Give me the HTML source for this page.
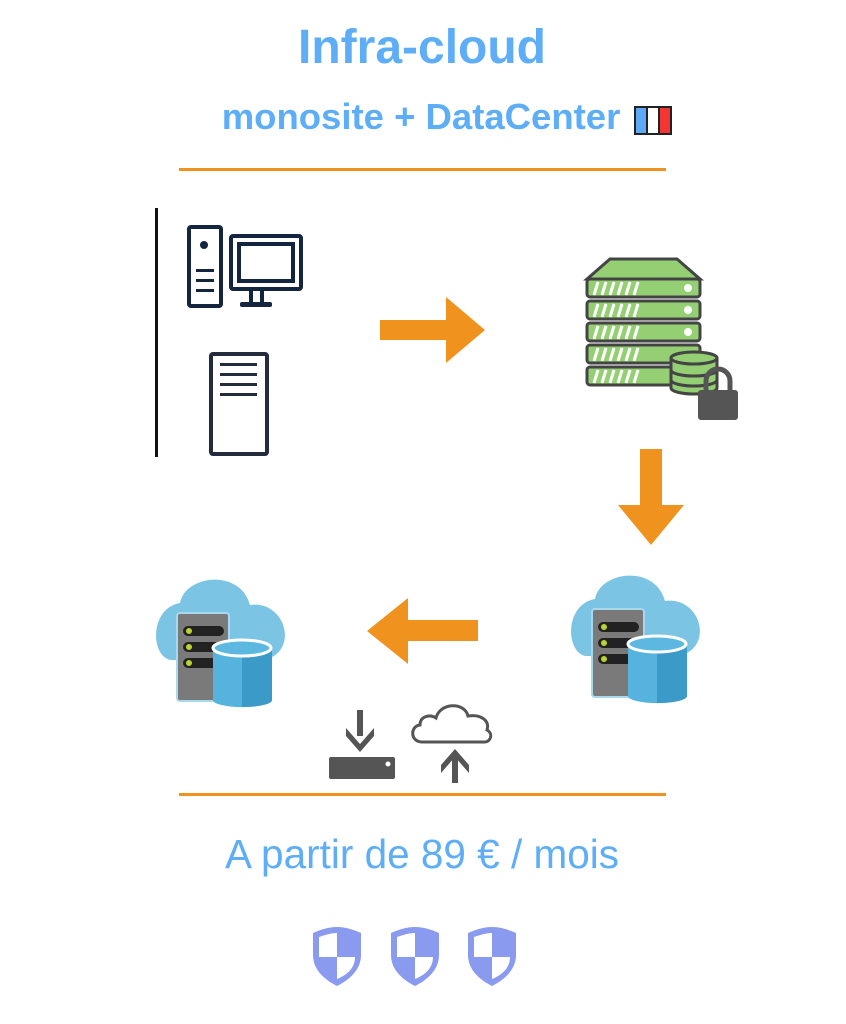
<!DOCTYPE html>
<html><head><meta charset="utf-8"><style>
html,body{margin:0;padding:0;background:#fff;}
svg{display:block;font-family:"Liberation Sans",Arial,sans-serif;}
</style></head><body>
<svg width="846" height="1024" viewBox="0 0 846 1024" xmlns="http://www.w3.org/2000/svg">
<text x="422" y="63" text-anchor="middle" font-size="48" font-weight="bold" fill="#5dadf7">Infra-cloud</text>
<text x="421" y="129" text-anchor="middle" font-size="36.5" font-weight="bold" fill="#5dadf7">monosite + DataCenter</text>
<g stroke="#222" stroke-width="2">
<rect x="635" y="107" width="12" height="27" fill="#5da9f7"/>
<rect x="647" y="107" width="12" height="27" fill="#fff"/>
<rect x="659" y="107" width="12" height="27" fill="#f53434"/>
</g>
<rect x="179" y="168" width="487" height="3" fill="#f0931e"/>
<rect x="179" y="793" width="487" height="3" fill="#f0931e"/>
<rect x="155" y="208" width="3" height="249" fill="#111"/>
<!-- desktop -->
<g fill="none" stroke="#14253f" stroke-width="4">
<rect x="189" y="227" width="32" height="79" rx="2"/>
<rect x="231" y="236" width="70" height="53" rx="2"/>
<rect x="239" y="244" width="54" height="37"/>
</g>
<circle cx="204" cy="245" r="4" fill="#14253f"/>
<g fill="#14253f"><rect x="196" y="269" width="18" height="3"/><rect x="196" y="279" width="18" height="3"/><rect x="196" y="289" width="18" height="3"/>
<rect x="249" y="289" width="4" height="15"/><rect x="260" y="289" width="4" height="15"/><rect x="240" y="302" width="32" height="5" rx="2"/></g>
<!-- tower -->
<rect x="211" y="354" width="56" height="100" rx="2" fill="none" stroke="#222c3c" stroke-width="4"/>
<g fill="#222c3c"><rect x="220" y="363" width="37" height="3"/><rect x="220" y="373" width="37" height="3"/><rect x="220" y="383" width="37" height="3"/><rect x="220" y="393" width="37" height="3"/></g>
<!-- arrows -->
<path d="M380 320H446V297L485 330L446 363V340H380Z" fill="#f0931e"/>
<path d="M640 449H662V505H684L651 545L618 505H640Z" fill="#f0931e"/>
<path d="M478 620H408V598L367 631L408 664V641H478Z" fill="#f0931e"/>
<!-- green server -->
<g stroke="#444" stroke-width="3" fill="#94cf73">
<path d="M587 279L610 259H677L700 279Z"/>
<rect x="587" y="279" width="113" height="18" rx="3"/>
<rect x="587" y="301" width="113" height="18" rx="3"/>
<rect x="587" y="323" width="113" height="18" rx="3"/>
<rect x="587" y="345" width="113" height="18" rx="3"/>
<rect x="587" y="367" width="113" height="18" rx="3"/>
</g>
<g stroke="#fff" stroke-width="3">
<path d="M594 295l4-13M602 295l4-13M610 295l4-13M618 295l4-13M626 295l4-13M634 295l4-13"/>
<path d="M594 317l4-13M602 317l4-13M610 317l4-13M618 317l4-13M626 317l4-13M634 317l4-13"/>
<path d="M594 339l4-13M602 339l4-13M610 339l4-13M618 339l4-13M626 339l4-13M634 339l4-13"/>
<path d="M594 361l4-13M602 361l4-13M610 361l4-13M618 361l4-13M626 361l4-13M634 361l4-13"/>
<path d="M594 383l4-13M602 383l4-13M610 383l4-13M618 383l4-13M626 383l4-13M634 383l4-13"/>
</g>
<g fill="#fff"><circle cx="688" cy="288" r="4"/><circle cx="688" cy="310" r="4"/><circle cx="688" cy="332" r="4"/></g>
<g stroke="#444" stroke-width="3" fill="#94cf73">
<path d="M671 358V388A23 6 0 0 0 717 388V358"/>
<ellipse cx="694" cy="358" rx="23" ry="6"/>
<path d="M671 370A23 6 0 0 0 717 370M671 380A23 6 0 0 0 717 380" fill="none"/>
</g>
<path d="M706 392V381A12 12 0 0 1 730 381V392" fill="none" stroke="#555" stroke-width="5"/>
<rect x="698" y="390" width="40" height="30" rx="3" fill="#555"/>
<!-- cloud servers -->
<g id="cs">
<path d="M170 660C150 655 150 608 180 603C185 575 240 568 250 605C285 600 300 650 265 660Z" fill="#7cc4e4"/>
<rect x="177" y="613" width="52" height="88" rx="3" fill="#7a7a7a" stroke="#a8d8ee" stroke-width="2"/>
<g fill="#222"><rect x="183" y="626" width="41" height="10" rx="5"/><rect x="183" y="642" width="41" height="10" rx="5"/><rect x="183" y="658" width="41" height="10" rx="5"/></g>
<g fill="#b8d430"><circle cx="189" cy="631" r="3"/><circle cx="189" cy="647" r="3"/><circle cx="189" cy="663" r="3"/></g>
<path d="M213 648V700A29 7 0 0 0 272 700V648Z" fill="#55b3dd"/>
<path d="M242 655V707A29 7 0 0 0 272 700V648Z" fill="#3b9ac8"/>
<ellipse cx="242" cy="648" rx="29" ry="8" fill="#5cb8e0" stroke="#fff" stroke-width="3"/>
</g>
<use href="#cs" transform="translate(415,-4)"/>
<!-- download / upload -->
<g fill="#555">
<rect x="357" y="710" width="6" height="26"/>
<path d="M346 728L360 744L374 728L374 736L360 752L346 736Z"/>
<rect x="329" y="757" width="66" height="22" rx="2"/>
</g>
<circle cx="388" cy="764" r="2.5" fill="#fff"/>
<path d="M422 742C410 742 410 726 420 725C420 716 430 714 436 718C440 702 465 702 468 716C480 714 490 720 487 730C494 734 490 742 485 742Z" fill="none" stroke="#555" stroke-width="3"/>
<rect x="452" y="755" width="6" height="28" fill="#555"/>
<path d="M441 765L455 749L469 765L469 773L455 757L441 773Z" fill="#555"/>
<text x="422" y="868" text-anchor="middle" font-size="40.5" fill="#5dadf7">A partir de 89 € / mois</text>
<!-- shields -->
<g id="sh">
<path d="M337 927C328 927 320 930 313 933V955C313 970 325 980 337 986C349 980 361 970 361 955V933C354 930 346 927 337 927Z" fill="#8a9aef"/>
<path d="M337 933V957H319V937C325 935 331 933 337 933Z" fill="#fff"/>
<path d="M337 957H355C355 968 347 975 337 979Z" fill="#fff"/>
</g>
<use href="#sh" transform="translate(78,0)"/>
<use href="#sh" transform="translate(155,0)"/>
</svg>
</body></html>
